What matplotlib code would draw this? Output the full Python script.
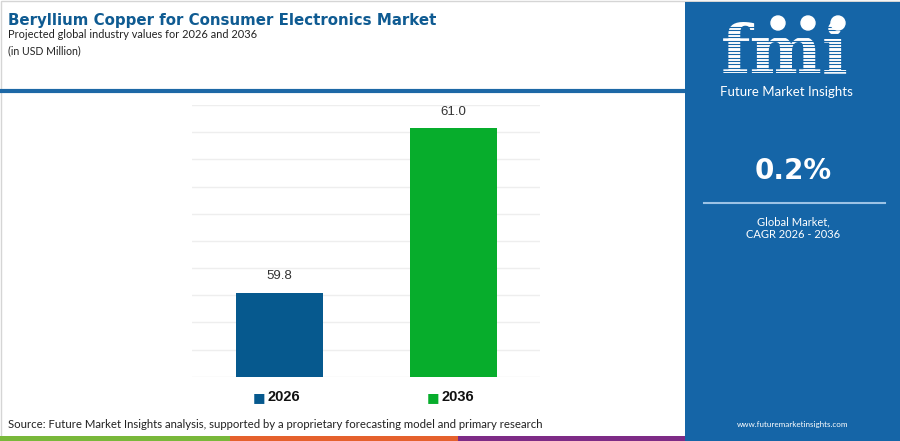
import matplotlib
matplotlib.use("Agg")
import matplotlib.pyplot as plt
from matplotlib.patches import Rectangle, Circle
import numpy as np

# data
years = ["2026", "2036"]
values = [59.8, 61.0]
bar_colors = ["#06598e", "#07ad2c"]
cagr = "0.2%"
title = "Beryllium Copper for Consumer Electronics Market"
subtitle = "Projected global industry values for 2026 and 2036"
unit = "(in USD Million)"
source = "Source: Future Market Insights analysis, supported by a proprietary forecasting model and primary research"

W, H = 900, 441
fig = plt.figure(figsize=(W / 100, H / 100), dpi=100)
fig.patch.set_facecolor("white")

# background / decoration axes in pixel coords
bg = fig.add_axes([0, 0, 1, 1])
bg.set_xlim(0, W)
bg.set_ylim(H, 0)
bg.axis("off")

panel_blue = "#1565a7"
bg.add_patch(Rectangle((0.5, 0.5), W - 1, H - 1, fill=False, ec="#d5d5d5", lw=1))
bg.plot([0, 685], [91, 91], color="#1d68a6", lw=3, solid_capstyle="butt")
bg.add_patch(Rectangle((685, 2), W - 685, H - 2, color=panel_blue, lw=0))
bg.add_patch(Rectangle((0, 436), 230, 5, color="#79b83a", lw=0))
bg.add_patch(Rectangle((230, 436), 228, 5, color="#e5612d", lw=0))
bg.add_patch(Rectangle((458, 436), 227, 5, color="#7e2b86", lw=0))

fig.canvas.draw()
renderer = fig.canvas.get_renderer()


def fit(t, target_w):
    # scale font so the text spans roughly target_w pixels
    w = t.get_window_extent(renderer).width
    t.set_fontsize(t.get_fontsize() * target_w / w)


t = bg.text(8, 21, title, fontsize=15, fontweight="bold", color="#0f5b92",
            family="DejaVu Sans", va="center", ha="left")
fit(t, 430)
t = bg.text(8, 35, subtitle, fontsize=9, color="#222222", family="Lato",
            va="center", ha="left")
fit(t, 250)
t = bg.text(8, 51, unit, fontsize=9, color="#222222", family="Lato",
            va="center", ha="left")
fit(t, 73)
t = bg.text(8, 425, source, fontsize=8, color="#222222", family="Lato",
            va="center", ha="left")
fit(t, 537)

# right panel: logo
t = bg.text(785, 54, "fmi", fontsize=50, color="white", fontweight="bold",
            family="DejaVu Serif", va="center", ha="center", zorder=1)
fit(t, 128)
for yy in np.arange(27, 78, 3.4):
    bg.plot([718, 852], [yy, yy], color=panel_blue, lw=0.8, zorder=2)
for cx in [778, 808, 838]:
    bg.add_patch(Circle((cx, 23), 7, color="white", zorder=3))
t = bg.text(786, 92, "Future Market Insights", fontsize=9, color="white",
            family="Lato", va="center", ha="center")
fit(t, 133)

bg.text(793, 171, cagr, fontsize=20, color="white", fontweight="bold",
        family="DejaVu Sans", va="center", ha="center")
bg.plot([704, 885], [203, 203], color="#9cc3e6", lw=1.5)
bg.text(793, 222, "Global Market,", fontsize=8, color="white", family="Lato",
        va="center", ha="center")
bg.text(793, 234, "CAGR 2026 - 2036", fontsize=8, color="white", family="Lato",
        va="center", ha="center")
t = bg.text(793, 425, "www.futuremarketinsights.com", fontsize=7, color="white",
            family="Lato", va="center", ha="center")
fit(t, 111)

# bar chart
y0, y1 = 376.7, 105.0
ax = fig.add_axes([192 / W, (H - y0) / H, 348 / W, (y0 - y1) / H])
ax.patch.set_alpha(0)
x = np.arange(len(years))
ax.bar(x, values, width=0.5, color=bar_colors, zorder=3)
ax.set_xlim(-0.5, 1.5)
ax.set_ylim(59.187, 61.17)
ax.set_yticks(np.linspace(59.187, 61.17, 11))
ax.grid(axis="y", color="#eeeeee", lw=1, zorder=0)
ax.tick_params(left=False, bottom=False, labelleft=False, labelbottom=False)
for s in ax.spines.values():
    s.set_visible(False)

for xi, v in zip(x, values):
    ax.annotate(f"{v:.1f}", (xi, v), xytext=(0, 12), textcoords="offset points",
                ha="center", va="center", fontsize=9.5, color="#333333",
                family="Liberation Sans")

# category labels with colour squares
tr = ax.get_xaxis_transform()
for xi, lab, c in zip(x, years, bar_colors):
    ax.text(xi + 0.03, -0.075, lab, transform=tr, ha="center", va="center",
            fontsize=10.5, fontweight="bold", color="#111111", family="Liberation Sans",
            clip_on=False)
    ax.text(xi - 0.115, -0.075, "\u25a0", transform=tr, ha="center", va="center",
            fontsize=9.5, color=c, family="DejaVu Sans", clip_on=False)

fig.savefig("out.png", dpi=100)
